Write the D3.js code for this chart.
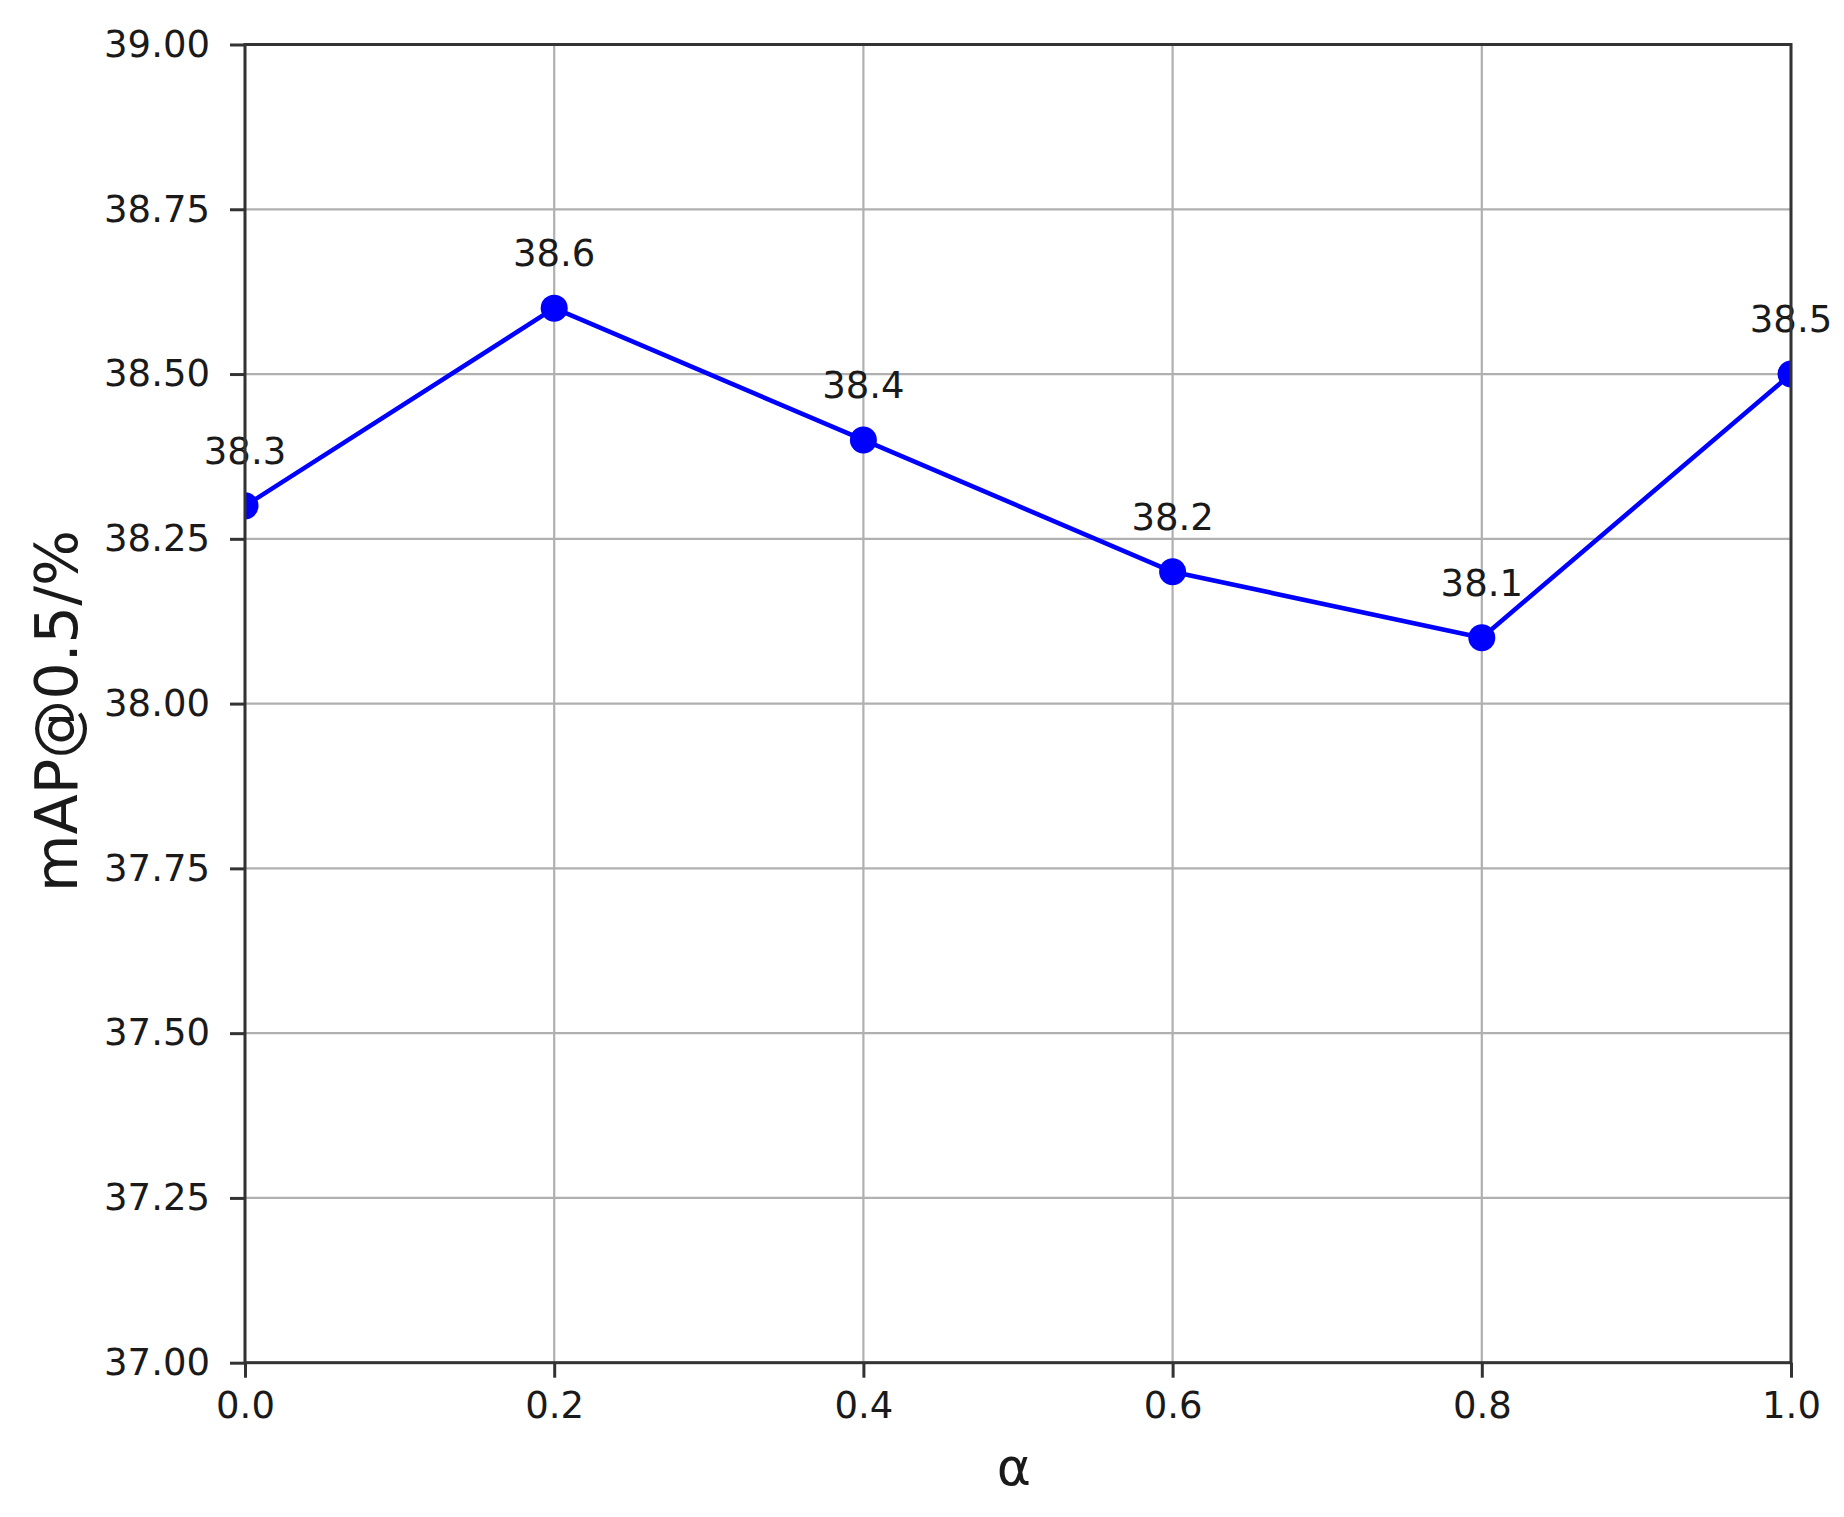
<!DOCTYPE html>
<html><head><meta charset="utf-8">
<script src="https://cdn.jsdelivr.net/npm/d3@7"></script>
<style>body{margin:0;background:#fff}svg{display:block}text{font-family:"DejaVu Sans",sans-serif;fill:#1a1a1a}</style>
</head><body>
<script>
const alphas = [0.0, 0.2, 0.4, 0.6, 0.8, 1.0];
const mapValues = [38.3, 38.6, 38.4, 38.2, 38.1, 38.5];
const xTicks = [0.0, 0.2, 0.4, 0.6, 0.8, 1.0];
const yTicks = [37.00, 37.25, 37.50, 37.75, 38.00, 38.25, 38.50, 38.75, 39.00];

const W = 1844, H = 1517;
const m = {left: 245, right: 1791, top: 44.5, bottom: 1362.7};
const svg = d3.select("body").append("svg").attr("width", W).attr("height", H);
const x = d3.scaleLinear().domain([0, 1]).range([m.left, m.right]);
const y = d3.scaleLinear().domain([37, 39]).range([m.bottom, m.top]);

svg.append("defs").append("clipPath").attr("id", "clip")
  .append("rect").attr("x", m.left).attr("y", m.top)
  .attr("width", m.right - m.left).attr("height", m.bottom - m.top);

// grid
const g = svg.append("g");
g.selectAll(".gx").data(xTicks).join("line")
  .attr("x1", d => x(d)).attr("x2", d => x(d)).attr("y1", m.top).attr("y2", m.bottom)
  .attr("stroke", "#b0b0b0").attr("stroke-width", 2.2);
g.selectAll(".gy").data(yTicks).join("line")
  .attr("y1", d => y(d)).attr("y2", d => y(d)).attr("x1", m.left).attr("x2", m.right)
  .attr("stroke", "#b0b0b0").attr("stroke-width", 2.2);

// line + markers
const plot = svg.append("g").attr("clip-path", "url(#clip)");
const pts = alphas.map((a, i) => [a, mapValues[i]]);
plot.append("path").datum(pts)
  .attr("d", d3.line().x(d => x(d[0])).y(d => y(d[1])))
  .attr("fill", "none").attr("stroke", "#0000ff").attr("stroke-width", 4.6)
  .attr("stroke-linejoin", "round");
plot.selectAll("circle").data(pts).join("circle")
  .attr("cx", d => x(d[0])).attr("cy", d => y(d[1])).attr("r", 13.5)
  .attr("fill", "#0000ff");

// value labels
svg.selectAll(".vl").data(pts).join("text")
  .attr("x", d => x(d[0])).attr("y", d => y(d[1]) - 42)
  .attr("text-anchor", "middle").attr("font-size", 37)
  .text(d => d[1].toFixed(1));

// axes
const yAxis = d3.axisLeft(y).tickValues(yTicks).tickFormat(d3.format(".2f")).tickSize(15).tickPadding(20);
const xAxis = d3.axisBottom(x).tickValues(xTicks).tickFormat(d3.format(".1f")).tickSize(15).tickPadding(14);
const ya = svg.append("g").attr("transform", `translate(${m.left},0)`).call(yAxis);
const xa = svg.append("g").attr("transform", `translate(0,${m.bottom})`).call(xAxis);
[ya, xa].forEach(a => {
  a.select(".domain").remove();
  a.selectAll(".tick line").attr("stroke", "#333").attr("stroke-width", 3);
  a.selectAll("text").attr("font-size", 37).attr("font-family", "DejaVu Sans").attr("fill", "#1a1a1a");
});
// frame
svg.append("rect").attr("x", m.left).attr("y", m.top)
  .attr("width", m.right - m.left).attr("height", m.bottom - m.top)
  .attr("fill", "none").attr("stroke", "#333").attr("stroke-width", 3);

// axis titles
svg.append("text").attr("x", x(0.5) - 4).attr("y", 1485)
  .attr("text-anchor", "middle").attr("font-size", 52).text("α");
svg.append("text").attr("transform", `translate(77,711) rotate(-90)`)
  .attr("text-anchor", "middle").attr("font-size", 59).text("mAP@0.5/%");
</script>
</body></html>
